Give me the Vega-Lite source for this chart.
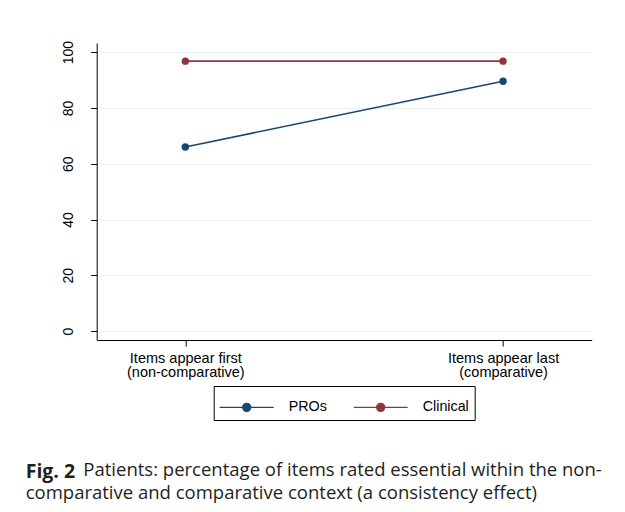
{
  "$schema": "https://vega.github.io/schema/vega-lite/v6.json",
  "width": 495,
  "height": 297,
  "autosize": {"type": "none"},
  "padding": {"left": 96.7, "top": 43, "right": 33.3, "bottom": 172},
  "background": "white",
  "config": {
    "view": {"stroke": null},
    "font": "Liberation Sans",
    "legend": {"layout": {"bottom": {"anchor": "middle"}}}
  },
  "title": {
    "text": "Fig. 2",
    "subtitle": [
      "\u200b\u00a0\u00a0\u00a0\u00a0\u00a0\u00a0\u00a0\u00a0\u00a0\u00a0\u00a0\u00a0Patients: percentage of items rated essential within the non-",
      "comparative and comparative context (a consistency effect)"
    ],
    "orient": "bottom",
    "anchor": "start",
    "frame": "group",
    "dx": -71,
    "offset": 42,
    "font": "Open Sans",
    "fontSize": 19.5,
    "fontWeight": "bold",
    "color": "#231f20",
    "subtitleFont": "Open Sans",
    "subtitleFontSize": 18.5,
    "subtitleFontWeight": "normal",
    "subtitleColor": "#231f20",
    "subtitleLineHeight": 22.5,
    "subtitlePadding": -21
  },
  "data": {
    "values": [
      {"context": "Items appear first|(non-comparative)", "group": "PROs", "pct": 66.0},
      {"context": "Items appear last|(comparative)", "group": "PROs", "pct": 89.6},
      {"context": "Items appear first|(non-comparative)", "group": "Clinical", "pct": 96.8},
      {"context": "Items appear last|(comparative)", "group": "Clinical", "pct": 96.8}
    ]
  },
  "encoding": {
    "x": {
      "field": "context",
      "type": "nominal",
      "sort": ["Items appear first|(non-comparative)", "Items appear last|(comparative)"],
      "scale": {"type": "point", "padding": 0.279},
      "axis": {
        "title": null,
        "labelAngle": 0,
        "labelExpr": "split(datum.label, '|')",
        "labelFontSize": 14.5,
        "labelLineHeight": 14.5,
        "labelPadding": 5,
        "labelColor": "black",
        "tickSize": 6,
        "tickColor": "black",
        "domainColor": "black",
        "grid": false
      }
    },
    "y": {
      "field": "pct",
      "type": "quantitative",
      "scale": {"domain": [-3.2, 103.3], "nice": false, "zero": false},
      "axis": {
        "title": null,
        "values": [0, 20, 40, 60, 80, 100],
        "labelAngle": 270,
        "labelAlign": "center",
        "labelBaseline": "alphabetic",
        "labelPadding": 18.7,
        "labelFontSize": 14,
        "labelColor": "black",
        "tickSize": 6,
        "tickColor": "black",
        "domainColor": "black",
        "grid": true,
        "gridColor": "#EAF2F3",
        "gridWidth": 1.2
      }
    },
    "color": {
      "field": "group",
      "type": "nominal",
      "scale": {"domain": ["PROs", "Clinical"], "range": ["#1a476f", "#90353b"]},
      "legend": {
        "title": null,
        "orient": "bottom",
        "direction": "horizontal",
        "symbolType": "M-1.8,0H1.8M0.267,0A0.267,0.267,0,1,1,-0.267,0A0.267,0.267,0,1,1,0.267,0Z",
        "symbolSize": 900,
        "symbolStrokeWidth": 1.4,
        "symbolOffset": 12,
        "labelOffset": 26,
        "labelFontSize": 14.3,
        "labelColor": "black",
        "labelLimit": 200,
        "columnPadding": 23,
        "padding": 5,
        "strokeColor": "black",
        "fillColor": "white",
        "offset": 7,
        "encode": {
          "symbols": {
            "update": {
              "fill": {"scale": "color", "field": "value"},
              "stroke": {"scale": "color", "field": "value"},
              "opacity": {"value": 1}
            }
          }
        }
      }
    }
  },
  "layer": [
    {"mark": {"type": "line", "strokeWidth": 1.6}},
    {"mark": {"type": "point", "filled": true, "size": 55, "opacity": 1}}
  ]
}
